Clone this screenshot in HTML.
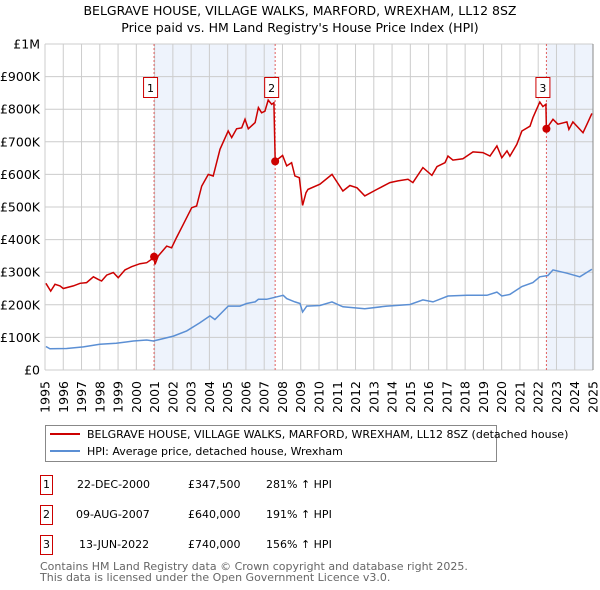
<!DOCTYPE html>
<html><head><meta charset="utf-8"><style>
body{margin:0;background:#fff;}
svg{display:block;font-family:"DejaVu Sans","Liberation Sans",sans-serif;}
</style></head><body>
<svg id="c" width="600" height="590" viewBox="0 0 600 590">
<text x="300" y="15" text-anchor="middle" font-size="12.5">BELGRAVE HOUSE, VILLAGE WALKS, MARFORD, WREXHAM, LL12 8SZ</text>
<text x="300" y="32" text-anchor="middle" font-size="12.5">Price paid vs. HM Land Registry's House Price Index (HPI)</text>
<g id="plot"></g>
<g>
<rect x="45.5" y="425.5" width="451" height="36" fill="#fff" stroke="#888"/>
<line x1="50" y1="434" x2="80" y2="434" stroke="#cc0000" stroke-width="2"/>
<text x="87" y="438" font-size="11">BELGRAVE HOUSE, VILLAGE WALKS, MARFORD, WREXHAM, LL12 8SZ (detached house)</text>
<line x1="50" y1="451" x2="80" y2="451" stroke="#5b8fd4" stroke-width="2"/>
<text x="87" y="455" font-size="11">HPI: Average price, detached house, Wrexham</text>
</g>
<g font-size="11">
<rect x="40.5" y="475.5" width="12" height="19" fill="#fff" stroke="#cc0000"/>
<text x="46.5" y="488" text-anchor="middle">1</text>
<text x="77" y="488">22-DEC-2000</text><text x="188" y="488">£347,500</text><text x="266" y="488">281% ↑ HPI</text>
<rect x="40.5" y="505.5" width="12" height="19" fill="#fff" stroke="#cc0000"/>
<text x="46.5" y="518" text-anchor="middle">2</text>
<text x="76" y="518">09-AUG-2007</text><text x="188" y="518">£640,000</text><text x="266" y="518">191% ↑ HPI</text>
<rect x="40.5" y="535.5" width="12" height="19" fill="#fff" stroke="#cc0000"/>
<text x="46.5" y="548" text-anchor="middle">3</text>
<text x="79" y="548">13-JUN-2022</text><text x="188" y="548">£740,000</text><text x="266" y="548">156% ↑ HPI</text>
</g>
<text x="40" y="570" font-size="11" fill="#666">Contains HM Land Registry data © Crown copyright and database right 2025.</text>
<text x="40" y="581" font-size="11" fill="#666">This data is licensed under the Open Government Licence v3.0.</text>
</svg>
<script>
const yTicks=[0,100000,200000,300000,400000,500000,600000,700000,800000,900000,1000000];
const yTickLabels=["£0","£100K","£200K","£300K","£400K","£500K","£600K","£700K","£800K","£900K","£1M"];
const xYears=[1995,1996,1997,1998,1999,2000,2001,2002,2003,2004,2005,2006,2007,2008,2009,2010,2011,2012,2013,2014,2015,2016,2017,2018,2019,2020,2021,2022,2023,2024,2025];
const saleYears=[2000.97,2007.6,2022.45];
const salePrices=[347500,640000,740000];
const saleLabels=["1","2","3"];
const redYears=[1995.05,1995.31,1995.55,1995.82,1996.0,1996.55,1996.92,1997.28,1997.65,1997.92,1998.1,1998.38,1998.74,1999.01,1999.38,1999.74,2000.2,2000.57,2000.84,2000.97,2001.02,2001.2,2001.66,2001.93,2002.2,2002.57,2003.03,2003.3,2003.58,2003.94,2004.21,2004.58,2005.03,2005.22,2005.49,2005.77,2005.95,2006.13,2006.5,2006.68,2006.86,2007.04,2007.22,2007.41,2007.53,2007.6,2007.68,2008.01,2008.23,2008.5,2008.68,2008.92,2009.1,2009.29,2009.4,2010.05,2010.71,2011.31,2011.69,2012.08,2012.51,2013.17,2013.88,2014.32,2014.87,2015.14,2015.69,2016.18,2016.46,2016.9,2017.06,2017.33,2017.88,2018.43,2018.97,2019.36,2019.74,2020.01,2020.29,2020.45,2020.83,2021.11,2021.55,2021.71,2022.09,2022.26,2022.42,2022.45,2022.81,2023.08,2023.57,2023.68,2023.9,2024.45,2024.67,2024.94];
const redValues=[266,242,263,258,250,258,266,268,286,278,273,291,299,283,307,317,326,329,340,347,324,350,380,375,406,447,498,503,564,600,595,677,733,713,740,743,769,740,759,805,789,794,828,815,820,640,644,658,626,636,595,590,505,544,554,570,600,549,566,559,534,554,575,580,585,575,621,597,624,636,656,644,648,669,667,656,687,651,672,656,692,733,748,774,822,808,815,740,769,754,761,738,761,728,754,787];
const blueYears=[1995.05,1995.27,1996.18,1997.1,1998.0,1998.9,1999.84,2000.57,2000.93,2001.3,2002.03,2002.76,2003.48,2004.03,2004.3,2005.03,2005.67,2006.04,2006.5,2006.68,2007.13,2008.04,2008.23,2008.68,2008.96,2009.1,2009.33,2010.05,2010.71,2011.31,2012.51,2013.72,2014.98,2015.69,2016.24,2017.06,2018.1,2019.19,2019.74,2020.01,2020.45,2021.11,2021.71,2022.09,2022.53,2022.81,2023.57,2024.28,2024.94];
const blueValues=[72,65,66,71,79,82,89,92,89,94,104,120,145,166,155,196,196,204,209,217,217,229,219,209,204,178,196,198,209,194,188,196,201,215,209,227,229,229,239,227,232,256,268,286,290,307,297,286,309];

const NS="http://www.w3.org/2000/svg";
const X0=45,X1=593,Y0=370,Y1=44;
function xs(y){return X0+(y-1995)/(2025-1995)*(X1-X0);}
function ys(v){return Y0-v/1000000*(Y0-Y1);}
function mk(tag,attrs,parent){const e=document.createElementNS(NS,tag);for(const k in attrs)e.setAttribute(k,attrs[k]);parent.appendChild(e);return e;}
const g=document.getElementById('plot');
let r1=mk('rect',{x:xs(saleYears[0]),y:Y1,width:xs(saleYears[1])-xs(saleYears[0]),height:Y0-Y1,fill:'#eef3fc'},g);


let r2=mk('rect',{x:xs(saleYears[2]),y:Y1,width:X1-xs(saleYears[2]),height:Y0-Y1,fill:'#eef3fc'},g);


xYears.forEach(yr=>{
 const l=mk('line',{x1:xs(yr),x2:xs(yr),y1:Y1,y2:Y0,stroke:'#cccccc','stroke-width':1},g);
 
 
 const t=mk('text',{x:0,y:0,'font-size':12.5,'text-anchor':'end',transform:`translate(${xs(yr)+4.5},${Y0+11}) rotate(-90)`},g);
 t.textContent=String(yr);
 
 
});
yTicks.forEach((v,i)=>{
 const l=mk('line',{x1:X0,x2:X1,y1:ys(v),y2:ys(v),stroke:'#cccccc','stroke-width':1},g);
 
 
 const t=mk('text',{x:X0-5,y:ys(v)+4.5,'font-size':12.5,'text-anchor':'end'},g);
 t.textContent=yTickLabels[i];
 
 
});
const rb=mk('line',{x1:X1,x2:X1,y1:Y1,y2:Y0,stroke:'#888','stroke-width':1},g);


saleYears.forEach((yr,i)=>{
 const l=mk('line',{x1:xs(yr),x2:xs(yr),y1:Y1,y2:Y0,stroke:'#e06060','stroke-width':1,'stroke-dasharray':'2,2'},g);
 
 
 const b=mk('rect',{x:xs(yr)-10.5,y:77.5,width:14,height:20,fill:'#fff',stroke:'#cc0000'},g);
 
 
 const t=mk('text',{x:xs(yr)-3.5,y:92,'font-size':11,'text-anchor':'middle'},g);
 t.textContent=saleLabels[i];
 
 
});
function path(xsArr,vals){return xsArr.map((y,i)=>(i?'L':'M')+xs(y).toFixed(1)+','+ys(vals[i]*1000).toFixed(1)).join('');}
const bl=mk('path',{d:path(blueYears,blueValues),fill:'none',stroke:'#5b8fd4','stroke-width':1.5},g);


const rl=mk('path',{d:path(redYears,redValues),fill:'none',stroke:'#cc0000','stroke-width':1.5},g);


saleYears.forEach((yr,i)=>{
 const c=mk('circle',{cx:xs(yr),cy:ys(salePrices[i]),r:4,fill:'#cc0000'},g);
 
 
});
</script>
</body></html>
